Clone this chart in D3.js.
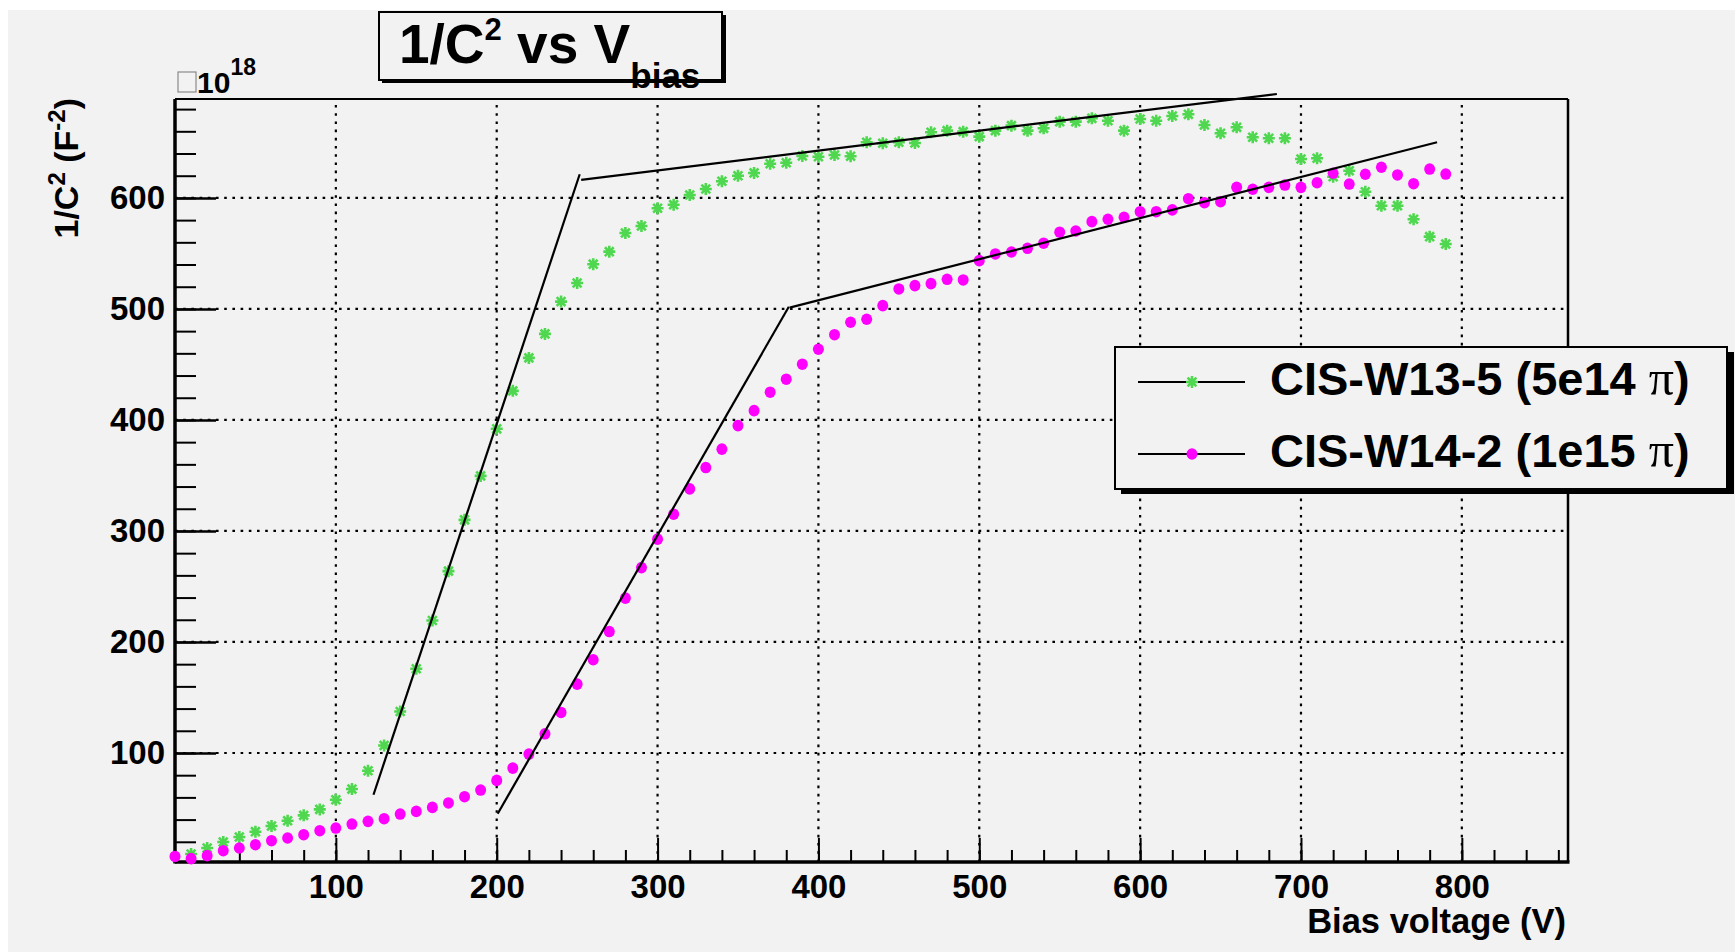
<!DOCTYPE html>
<html lang="en">
<head>
    <meta charset="UTF-8">
    <title>1/C2 vs Vbias</title>
    <style>
        body { margin: 0; background: #ffffff; }
        text { font-family: "Liberation Sans", Arial, sans-serif; font-weight: bold; fill: #000; }
        .grid line { stroke: #000; stroke-width: 2.2px; stroke-dasharray: 2.6, 5.6; }
        .fit { stroke: #000; stroke-width: 2.2px; fill: none; }
        .axis path, .axis line { stroke: #000; }
    </style>
</head>
<body>
    <script src="https://d3js.org/d3.v7.min.js"></script>
    <script>
        var width = 1735;
        var height = 952;

        // CIS-W13-5 (5e14 pi): bias voltage (V) and 1/C^2 (x1e18 F^-2)
        var greenV = [10, 20, 30, 40, 50, 60, 70, 80, 90, 100, 110, 120, 130, 140, 150, 160, 170, 180, 190, 200,
            210, 220, 230, 240, 250, 260, 270, 280, 290, 300, 310, 320, 330, 340, 350, 360, 370, 380, 390, 400,
            410, 420, 430, 440, 450, 460, 470, 480, 490, 500, 510, 520, 530, 540, 550, 560, 570, 580, 590, 600,
            610, 620, 630, 640, 650, 660, 670, 680, 690, 700, 710, 720, 730, 740, 750, 760, 770, 780, 790];
        var greenC = [9.0, 14.4, 19.8, 24.3, 29.1, 34.2, 39.0, 43.8, 49.2, 57.9, 67.5, 84.0, 106.8, 137.4, 175.9, 219.3, 263.8, 310.0, 349.6, 392.0,
            426.2, 455.9, 477.5, 506.6, 523.4, 540.3, 551.6, 568.4, 574.7, 590.7, 593.9, 602.6, 608.0, 615.0, 620.0, 622.5, 630.8, 631.7, 637.8, 637.1,
            638.7, 637.5, 650.1, 649.2, 650.1, 649.5, 659.1, 660.6, 659.7, 655.2, 660.6, 665.1, 660.6, 662.7, 668.7, 668.7, 671.7, 669.5, 660.6, 671.1,
            669.5, 673.8, 675.3, 665.7, 658.2, 663.6, 654.6, 653.7, 653.7, 635.1, 635.7, 619.1, 624.5, 605.6, 593.0, 593.0, 580.8, 565.1, 558.5];

        // CIS-W14-2 (1e15 pi)
        var magV = [0, 10, 20, 30, 40, 50, 60, 70, 80, 90, 100, 110, 120, 130, 140, 150, 160, 170, 180, 190,
            200, 210, 220, 230, 240, 250, 260, 270, 280, 290, 300, 310, 320, 330, 340, 350, 360, 370, 380, 390,
            400, 410, 420, 430, 440, 450, 460, 470, 480, 490, 500, 510, 520, 530, 540, 550, 560, 570, 580, 590,
            600, 610, 620, 630, 640, 650, 660, 670, 680, 690, 700, 710, 720, 730, 740, 750, 760, 770, 780, 790];
        var magC = [6.8, 4.8, 7.5, 12.0, 14.4, 17.4, 21.0, 23.4, 26.4, 30.0, 32.4, 36.0, 38.4, 40.8, 45.0, 47.4, 51.0, 55.0, 60.6, 66.6,
            75.3, 86.4, 99.0, 117.3, 136.5, 162.0, 184.0, 209.4, 239.5, 267.0, 292.6, 315.1, 337.9, 357.1, 373.7, 394.9, 408.4, 425.0, 436.7, 450.2,
            463.7, 476.8, 488.0, 490.7, 503.0, 518.0, 521.0, 522.8, 526.7, 526.1, 543.5, 549.5, 551.3, 554.6, 559.2, 569.1, 570.2, 578.6, 580.8, 582.6,
            587.6, 587.6, 589.2, 599.3, 595.7, 596.6, 609.5, 607.8, 609.5, 611.6, 609.5, 613.7, 622.2, 612.5, 621.3, 627.6, 620.7, 612.8, 626.0, 621.5];

        // straight-line fits (two segments per sample)
        var fitGreenLow = [[123.4, 62.4], [251.6, 621.3]];
        var fitGreenHigh = [[252.5, 616.2], [685.0, 693.6]];
        var fitMagLow = [[200.6, 45.3], [381.6, 502.0]];
        var fitMagHigh = [[382.1, 501.2], [784.6, 650.1]];

        var xMajor = [100, 200, 300, 400, 500, 600, 700, 800];
        var yMajor = [100, 200, 300, 400, 500, 600];
        var xMinor = d3.range(20, 866, 20);
        var yMinor = d3.range(20, 689, 20);

        var legendLabels = ["CIS-W13-5 (5e14 ", "CIS-W14-2 (1e15 "];

        var plot = { left: 175, right: 1568, top: 99, bottom: 862 };
        var green = "#4fd84f";
        var magenta = "#ff00ff";

        var x = d3.scaleLinear().domain([0, 866]).range([plot.left, plot.right]);
        var y = d3.scaleLinear().domain([1.8, 689.1]).range([plot.bottom, plot.top]);

        var svg = d3.select("body").append("svg")
            .attr("width", width)
            .attr("height", height);

        // canvas
        svg.append("rect").attr("x", 8).attr("y", 10)
            .attr("width", width - 8).attr("height", height - 10)
            .attr("fill", "#f2f2f2");

        // grid
        var grid = svg.append("g").attr("class", "grid");
        grid.selectAll(".gx").data(xMajor).enter().append("line")
            .attr("x1", d => x(d)).attr("x2", d => x(d))
            .attr("y1", plot.bottom).attr("y2", plot.top);
        grid.selectAll(".gy").data(yMajor).enter().append("line")
            .attr("x1", plot.left).attr("x2", plot.right)
            .attr("y1", d => y(d)).attr("y2", d => y(d));

        // axes (ticks point into the frame)
        var xAxis = svg.append("g").attr("class", "axis")
            .attr("transform", "translate(0," + plot.bottom + ")")
            .call(d3.axisBottom(x).tickValues(xMajor).tickSize(-24).tickPadding(13).tickFormat(d3.format("d")));
        xAxis.select(".domain").remove();
        xAxis.selectAll("line").attr("stroke-width", 2);
        xAxis.selectAll("text").attr("font-size", 33).style("font-family", "'Liberation Sans', Arial, sans-serif");

        svg.append("g").attr("class", "axis")
            .attr("transform", "translate(0," + plot.bottom + ")")
            .call(d3.axisBottom(x).tickValues(xMinor).tickSize(-12).tickFormat(""))
            .call(g => g.select(".domain").remove())
            .selectAll("line").attr("stroke-width", 2);

        var yAxis = svg.append("g").attr("class", "axis")
            .attr("transform", "translate(" + plot.left + ",0)")
            .call(d3.axisLeft(y).tickValues(yMajor).tickSize(-41).tickPadding(10).tickFormat(d3.format("d")));
        yAxis.select(".domain").remove();
        yAxis.selectAll("line").attr("stroke-width", 2.5);
        yAxis.selectAll("text").attr("font-size", 33).style("font-family", "'Liberation Sans', Arial, sans-serif");

        svg.append("g").attr("class", "axis")
            .attr("transform", "translate(" + plot.left + ",0)")
            .call(d3.axisLeft(y).tickValues(yMinor).tickSize(-21).tickFormat(""))
            .call(g => g.select(".domain").remove())
            .selectAll("line").attr("stroke-width", 2);

        // frame
        svg.append("line").attr("x1", plot.left).attr("x2", plot.right + 1.5)
            .attr("y1", plot.bottom).attr("y2", plot.bottom).attr("stroke", "#000").attr("stroke-width", 3.5);
        svg.append("line").attr("x1", plot.left).attr("x2", plot.left)
            .attr("y1", plot.top).attr("y2", plot.bottom + 1.5).attr("stroke", "#000").attr("stroke-width", 3.5);
        svg.append("line").attr("x1", plot.left).attr("x2", plot.right)
            .attr("y1", plot.top).attr("y2", plot.top).attr("stroke", "#000").attr("stroke-width", 2);
        svg.append("line").attr("x1", plot.right).attr("x2", plot.right)
            .attr("y1", plot.top).attr("y2", plot.bottom).attr("stroke", "#000").attr("stroke-width", 2.5);

        // markers
        var starPath = "M-6,0H6M0,-6V6M-4.4,-4.4L4.4,4.4M-4.4,4.4L4.4,-4.4";
        var greenPts = greenV.map((v, i) => [v, greenC[i]]);
        var magPts = magV.map((v, i) => [v, magC[i]]);

        svg.append("g").selectAll("path").data(greenPts).enter().append("path")
            .attr("d", starPath)
            .attr("transform", d => "translate(" + x(d[0]) + "," + y(d[1]) + ")")
            .attr("stroke", green).attr("stroke-width", 2.6).attr("fill", "none");

        svg.append("g").selectAll("ellipse").data(magPts).enter().append("ellipse")
            .attr("cx", d => x(d[0])).attr("cy", d => y(d[1]))
            .attr("rx", 5.5).attr("ry", 5.8)
            .attr("fill", magenta);

        // fit lines
        var line = d3.line().x(d => x(d[0])).y(d => y(d[1]));
        [fitGreenLow, fitGreenHigh, fitMagLow, fitMagHigh].forEach(function(f) {
            svg.append("path").attr("class", "fit").attr("d", line(f));
        });

        // axis titles
        svg.append("text")
            .attr("x", plot.right - 2).attr("y", 933)
            .attr("text-anchor", "end").attr("font-size", 34.5)
            .text("Bias voltage (V)");

        var yt = svg.append("text")
            .attr("transform", "translate(78,98) rotate(-90)")
            .attr("text-anchor", "end").attr("font-size", 34);
        yt.append("tspan").text("1/C");
        yt.append("tspan").attr("font-size", 24).attr("dy", -13).text("2");
        yt.append("tspan").attr("dy", 13).text(" (F");
        yt.append("tspan").attr("font-size", 24).attr("dy", -13).text("-2");
        yt.append("tspan").attr("dy", 13).text(")");

        // exponent label
        svg.append("rect").attr("x", 178).attr("y", 72).attr("width", 18).attr("height", 20)
            .attr("fill", "none").attr("stroke", "#8a8a8a").attr("stroke-width", 1.2);
        var ex = svg.append("text").attr("x", 197).attr("y", 93).attr("font-size", 30);
        ex.append("tspan").text("10");
        ex.append("tspan").attr("font-size", 23).attr("dy", -18).text("18");

        // title box
        svg.append("rect").attr("x", 382).attr("y", 15).attr("width", 344).attr("height", 68).attr("fill", "#000");
        svg.append("rect").attr("x", 379).attr("y", 12).attr("width", 343).attr("height", 68)
            .attr("fill", "#f2f2f2").attr("stroke", "#000").attr("stroke-width", 2);
        var title = svg.append("text").attr("x", 399).attr("y", 63).attr("font-size", 55);
        title.append("tspan").text("1/C");
        title.append("tspan").attr("font-size", 31).attr("dy", -23).text("2");
        title.append("tspan").attr("dy", 23).text(" vs V");
        title.append("tspan").attr("font-size", 35).attr("dy", 25).text("bias");

        // legend
        svg.append("rect").attr("x", 1121).attr("y", 352).attr("width", 613).attr("height", 142).attr("fill", "#000");
        svg.append("rect").attr("x", 1115).attr("y", 347).attr("width", 612).attr("height", 142)
            .attr("fill", "#f2f2f2").attr("stroke", "#000").attr("stroke-width", 2);

        var legendRows = [382, 454];
        legendRows.forEach(function(ly, i) {
            svg.append("line").attr("x1", 1138).attr("x2", 1245).attr("y1", ly).attr("y2", ly)
                .attr("stroke", "#000").attr("stroke-width", 2);
            if (i === 0) {
                svg.append("path").attr("d", starPath).attr("transform", "translate(1192," + ly + ")")
                    .attr("stroke", green).attr("stroke-width", 2.6).attr("fill", "none");
            } else {
                svg.append("ellipse").attr("cx", 1192).attr("cy", ly).attr("rx", 5.5).attr("ry", 5.8).attr("fill", magenta);
            }
            var t = svg.append("text").attr("x", 1270).attr("y", ly + 13).attr("font-size", 47);
            t.append("tspan").text(legendLabels[i]);
            t.append("tspan").style("font-family", "'Liberation Serif', 'DejaVu Serif', serif")
                .style("font-weight", "normal").attr("font-size", 50).text("\u03c0");
            t.append("tspan").text(")");
        });
    </script>
</body>
</html>
